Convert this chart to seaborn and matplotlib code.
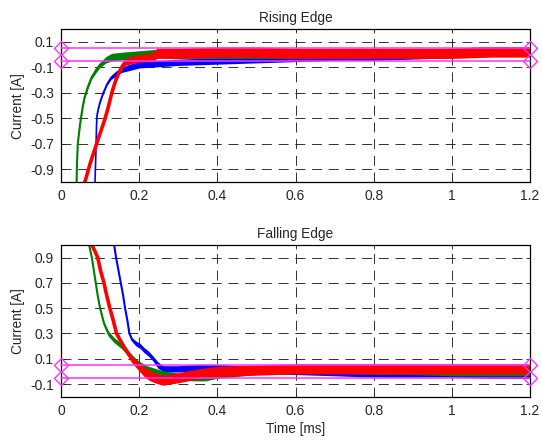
import numpy as np
import pandas as pd
import seaborn as sns
import matplotlib.pyplot as plt

# Rising edge traces (time in ms, current in A)
rise_blue_t = [0.087, 0.089, 0.091, 0.092, 0.095, 0.100, 0.108, 0.118, 0.128, 0.140, 0.155, 0.175,
               0.200, 0.250, 0.300, 0.400, 0.500, 0.600, 0.700, 0.800, 0.900, 1.000, 1.050, 1.100, 1.200]
rise_blue_i = [-1.00, -0.80, -0.55, -0.48, -0.43, -0.37, -0.30, -0.23, -0.18, -0.15, -0.12, -0.10,
               -0.08, -0.07, -0.06, -0.05, -0.04, -0.03, -0.02, -0.02, -0.01, 0.00, 0.03, 0.03, 0.03]
rise_blue_n = [0.00, 0.00, 0.00, 0.01, 0.01, 0.01, 0.01, 0.01, 0.015, 0.02, 0.02, 0.025,
               0.025, 0.025, 0.025, 0.025, 0.025, 0.025, 0.025, 0.025, 0.025, 0.025, 0.03, 0.03, 0.03]

rise_green_t = [0.040, 0.041, 0.043, 0.046, 0.050, 0.055, 0.060, 0.068, 0.078, 0.090, 0.100, 0.115,
                0.130, 0.160, 0.200, 0.240, 0.300, 0.400, 0.500, 0.600, 0.700, 0.800, 0.900, 1.000,
                1.100, 1.200]
rise_green_i = [-1.00, -0.85, -0.70, -0.62, -0.52, -0.42, -0.34, -0.26, -0.18, -0.12, -0.08, -0.04,
                -0.02, -0.01, 0.00, 0.01, 0.00, 0.00, 0.00, 0.00, 0.00, 0.01, 0.01, 0.02,
                0.03, 0.03]
rise_green_n = [0.00, 0.00, 0.00, 0.00, 0.01, 0.01, 0.01, 0.015, 0.015, 0.02, 0.02, 0.025,
                0.03, 0.03, 0.03, 0.03, 0.03, 0.03, 0.03, 0.03, 0.03, 0.03, 0.03, 0.03,
                0.03, 0.03]

rise_red_t = [0.061, 0.075, 0.091, 0.102, 0.113, 0.122, 0.130, 0.138, 0.147, 0.155, 0.164, 0.180,
              0.200, 0.235, 0.245, 0.300, 0.400, 0.500, 0.600, 0.700, 0.800, 0.900, 1.000, 1.100, 1.200]
rise_red_i = [-1.00, -0.85, -0.70, -0.60, -0.50, -0.40, -0.30, -0.22, -0.15, -0.10, -0.06, -0.04,
              -0.03, -0.02, 0.01, 0.01, 0.02, 0.02, 0.01, 0.01, 0.01, 0.01, 0.01, 0.02, 0.02]
rise_red_n = [0.00, 0.00, 0.00, 0.00, 0.00, 0.00, 0.01, 0.01, 0.015, 0.02, 0.025, 0.03,
              0.03, 0.035, 0.04, 0.04, 0.04, 0.04, 0.04, 0.04, 0.04, 0.04, 0.04, 0.04, 0.04]

# Falling edge traces
fall_blue_t = [0.136, 0.141, 0.147, 0.153, 0.159, 0.164, 0.170, 0.175, 0.182, 0.192, 0.203, 0.212,
               0.224, 0.236, 0.248, 0.262, 0.300, 0.350, 0.400, 0.500, 0.600, 0.700, 0.800, 0.900,
               1.000, 1.100, 1.200]
fall_blue_i = [1.00, 0.90, 0.80, 0.70, 0.60, 0.50, 0.40, 0.30, 0.25, 0.22, 0.20, 0.17,
               0.14, 0.10, 0.05, 0.02, 0.02, 0.03, 0.03, 0.01, 0.00, -0.01, -0.02, -0.02,
               -0.02, -0.03, -0.03]
fall_blue_n = [0.00, 0.00, 0.00, 0.00, 0.00, 0.00, 0.005, 0.01, 0.015, 0.02, 0.02, 0.02,
               0.02, 0.02, 0.025, 0.025, 0.025, 0.025, 0.025, 0.025, 0.025, 0.025, 0.025, 0.025,
               0.025, 0.025, 0.025]

fall_green_t = [0.072, 0.079, 0.084, 0.089, 0.094, 0.100, 0.110, 0.121, 0.135, 0.155, 0.170, 0.185,
                0.200, 0.220, 0.260, 0.300, 0.340, 0.370, 0.400, 0.500, 0.600, 0.700, 0.800, 0.900,
                1.000, 1.100, 1.200]
fall_green_i = [1.00, 0.90, 0.80, 0.70, 0.60, 0.50, 0.38, 0.30, 0.25, 0.20, 0.15, 0.10,
                0.06, 0.02, -0.02, -0.04, -0.05, -0.05, -0.03, 0.00, 0.01, 0.01, 0.00, 0.00,
                -0.01, -0.01, -0.01]
fall_green_n = [0.00, 0.00, 0.00, 0.00, 0.00, 0.01, 0.015, 0.02, 0.02, 0.02, 0.02, 0.02,
                0.02, 0.025, 0.025, 0.025, 0.025, 0.025, 0.025, 0.025, 0.025, 0.025, 0.025, 0.025,
                0.025, 0.025, 0.025]

fall_red_t = [0.079, 0.087, 0.094, 0.101, 0.110, 0.117, 0.125, 0.134, 0.142, 0.151, 0.160, 0.170,
              0.181, 0.195, 0.211, 0.225, 0.240, 0.260, 0.280, 0.300, 0.350, 0.400, 0.500, 0.600,
              0.800, 1.000, 1.200]
fall_red_i = [1.00, 0.95, 0.90, 0.80, 0.70, 0.60, 0.50, 0.40, 0.30, 0.25, 0.20, 0.15,
              0.10, 0.05, 0.00, -0.03, -0.05, -0.07, -0.06, -0.05, -0.02, 0.00, 0.01, 0.02,
              0.02, 0.02, 0.02]
fall_red_n = [0.00, 0.00, 0.00, 0.00, 0.00, 0.00, 0.00, 0.005, 0.01, 0.015, 0.02, 0.025,
              0.03, 0.03, 0.035, 0.04, 0.04, 0.04, 0.04, 0.04, 0.04, 0.04, 0.04, 0.04,
              0.04, 0.04, 0.04]

tol_levels = [0.053, -0.053]
t_ends = [0.0, 1.2]

x_ticks = [0, 0.2, 0.4, 0.6, 0.8, 1.0, 1.2]
x_tick_labels = ["0", "0.2", "0.4", "0.6", "0.8", "1", "1.2"]
rise_yticks = [-0.9, -0.7, -0.5, -0.3, -0.1, 0.1]
fall_yticks = [-0.1, 0.1, 0.3, 0.5, 0.7, 0.9]

sns.set_style("ticks")
plt.rcParams['font.family'] = ['Liberation Sans', 'DejaVu Sans']
plt.rcParams['xtick.direction'] = 'in'
plt.rcParams['ytick.direction'] = 'in'

BLUE = (0, 0, 1)
GREEN = (0, 0.5, 0)
RED = (1, 0, 0)
MAG = '#ff33ff'

fig = plt.figure(figsize=(5.42, 4.41), dpi=100)
ax1 = fig.add_axes([0.1125, 0.587, 0.8655, 0.347])
ax2 = fig.add_axes([0.1125, 0.1005, 0.8655, 0.344])


def draw_trace(ax, t, i, n, color, lw):
    df = pd.DataFrame({'t': t, 'i': i, 'n': n})
    ax.fill_between(df['t'], df['i'] - df['n'], df['i'] + df['n'], color=color, lw=0, zorder=2)
    sns.lineplot(data=df, x='t', y='i', ax=ax, color=color, lw=lw, sort=False,
                 estimator=None, zorder=2)


def style_axis(ax, yticks, ylim, title):
    ax.set_xlim(0, 1.2)
    ax.set_ylim(*ylim)
    ax.set_xticks(x_ticks)
    ax.set_xticklabels(x_tick_labels)
    ax.set_yticks(yticks)
    ax.set_yticklabels([f"{v:g}" for v in yticks])
    ax.grid(True, color='#222222', linestyle=(0, (11, 7.5)), linewidth=0.65)
    ax.tick_params(labelsize=10, top=True, right=True, length=3, width=0.6, pad=5)
    for sp in ax.spines.values():
        sp.set_linewidth(0.9)
        sp.set_color('black')
    ax.set_title(title, fontsize=9.8, pad=5)
    ax.set_ylabel("Current [A]", fontsize=9.8, labelpad=4)
    ax.set_xlabel("")
    for lvl in tol_levels:
        ax.plot(t_ends, [lvl, lvl], color=MAG, lw=1.1, marker='D', markersize=7,
                markerfacecolor='none', markeredgecolor=MAG, markeredgewidth=1.0,
                clip_on=False, zorder=4)


draw_trace(ax1, rise_blue_t, rise_blue_i, rise_blue_n, BLUE, 1.2)
draw_trace(ax1, rise_green_t, rise_green_i, rise_green_n, GREEN, 1.5)
draw_trace(ax1, rise_red_t, rise_red_i, rise_red_n, RED, 2.6)
style_axis(ax1, rise_yticks, (-1.0, 0.2), "Rising Edge")

draw_trace(ax2, fall_blue_t, fall_blue_i, fall_blue_n, BLUE, 1.5)
draw_trace(ax2, fall_green_t, fall_green_i, fall_green_n, GREEN, 1.5)
draw_trace(ax2, fall_red_t, fall_red_i, fall_red_n, RED, 2.6)
style_axis(ax2, fall_yticks, (-0.2, 1.0), "Falling Edge")
ax2.set_xlabel("Time [ms]", fontsize=9.8, labelpad=3)

fig.savefig("out.png", dpi=100)
